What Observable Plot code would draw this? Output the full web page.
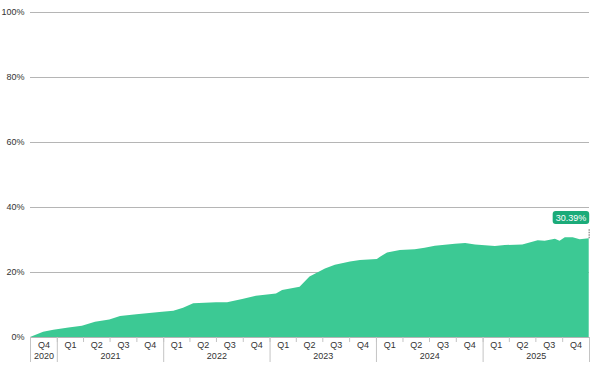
<!DOCTYPE html>
<html><head><meta charset="utf-8">
<script src="https://cdn.jsdelivr.net/npm/d3@7"></script>
<script src="https://cdn.jsdelivr.net/npm/@observablehq/plot@0.6"></script>
<style>
html,body{margin:0;padding:0;background:#fff;}
svg{font-family:"Liberation Sans",Arial,sans-serif;}
</style></head>
<body><div id="chart"></div>
<script>
const dates = ["2020-10-01","2020-11-15","2020-12-20","2021-02-10","2021-03-28","2021-05-12","2021-06-30","2021-08-06","2021-10-01","2021-12-28","2022-02-05","2022-03-10","2022-04-14","2022-07-01","2022-08-08","2022-09-29","2022-11-15","2023-01-23","2023-02-13","2023-04-14","2023-05-18","2023-07-10","2023-08-13","2023-10-04","2023-11-07","2024-01-04","2024-01-15","2024-02-08","2024-03-23","2024-05-13","2024-06-16","2024-07-21","2024-09-28","2024-11-02","2024-12-06","2025-02-12","2025-03-18","2025-05-17","2025-07-09","2025-08-02","2025-09-06","2025-09-22","2025-10-10","2025-11-06","2025-11-30","2025-12-31"];
const values = [0,1.6,2.2,2.9,3.5,4.7,5.4,6.5,7.0,7.8,8.1,9.0,10.4,10.7,10.7,11.7,12.7,13.4,14.5,15.5,18.6,21.1,22.2,23.2,23.7,24.0,24.7,26.0,26.8,27.0,27.5,28.1,28.7,28.9,28.5,28.0,28.3,28.5,29.8,29.6,30.2,29.6,30.7,30.7,30.1,30.39];
const yTicks = [0,20,40,60,80,100];
const quarterLabels = ["Q1","Q2","Q3","Q4"];
const years = [2020,2021,2022,2023,2024,2025];
const endLabel = "30.39%";

const data = dates.map((d,i)=>({date:new Date(d+"T00:00:00"), v:values[i]}));
const start = new Date("2020-10-01T00:00:00"), end = new Date("2026-01-01T00:00:00");
const quarters = [];
for (let y of years) for (let q=0;q<4;q++){
  const s = new Date(y, q*3, 1);
  if (s < start) continue;
  const e = new Date(y, q*3+3, 1);
  quarters.push({s, e, mid:new Date((+s + +e)/2), label:quarterLabels[q]});
}
const quarterStarts = quarters.map(d=>d.s).concat([end]);
const yearBounds = [start].concat(years.slice(1).map(y=>new Date(y,0,1))).concat([end]);
const yearMids = years.map((y,i)=>({y:String(y), mid:new Date((+yearBounds[i] + +yearBounds[i+1])/2)}));
const last = data[data.length-1];

const chart = Plot.plot({
  width:600, height:372,
  marginTop:12, marginBottom:35, marginLeft:30, marginRight:11,
  style:{fontSize:"9px", color:"#333", background:"#fff"},
  x:{type:"utc", domain:[start,end], axis:null},
  y:{domain:[0,100], axis:null},
  marks:[
    Plot.ruleY(yTicks, {stroke:"#b5b5b5", strokeWidth:1}),
    Plot.axisY({ticks:yTicks, tickSize:0, tickPadding:6, tickFormat:d=>d+"%", fill:"#333", fontSize:9, label:null}),
    Plot.areaY(data, {x:"date", y:"v", fill:"#3cc994", curve:"linear"}),
    Plot.axisX({ticks:quarterStarts, tickSize:5, tickFormat:()=>"", stroke:"#c4c4c4", label:null}),
    Plot.axisX({ticks:yearBounds, tickSize:25, tickFormat:()=>"", stroke:"#c4c4c4", label:null}),
    Plot.text(quarters, {x:"mid", text:"label", frameAnchor:"bottom", dy:10, fill:"#333", fontSize:9}),
    Plot.text(yearMids, {x:"mid", text:"y", frameAnchor:"bottom", dy:21, fill:"#333", fontSize:9}),
    Plot.ruleX([last], {x:"date", y1:"v", y2:()=>33.2, stroke:"#999", strokeDasharray:"1.5,1", strokeWidth:1.5}),
    Plot.text([last], {x:"date", y:"v", text:()=>endLabel, textAnchor:"end", dx:-3, dy:-21, fill:"#fff", fontSize:9})
  ]
});
document.getElementById("chart").appendChild(chart);
for (const t of chart.querySelectorAll("text")) {
  if (t.textContent !== endLabel) continue;
  const b = t.getBBox();
  const r = document.createElementNS("http://www.w3.org/2000/svg","rect");
  r.setAttribute("x", b.x-3); r.setAttribute("y", b.y-1.5);
  r.setAttribute("width", b.width+6); r.setAttribute("height", b.height+3);
  r.setAttribute("rx", 3); r.setAttribute("fill", "#1bab79");
  const tr = t.getAttribute("transform");
  if (tr) r.setAttribute("transform", tr);
  t.parentNode.insertBefore(r, t);
}
</script></body></html>
